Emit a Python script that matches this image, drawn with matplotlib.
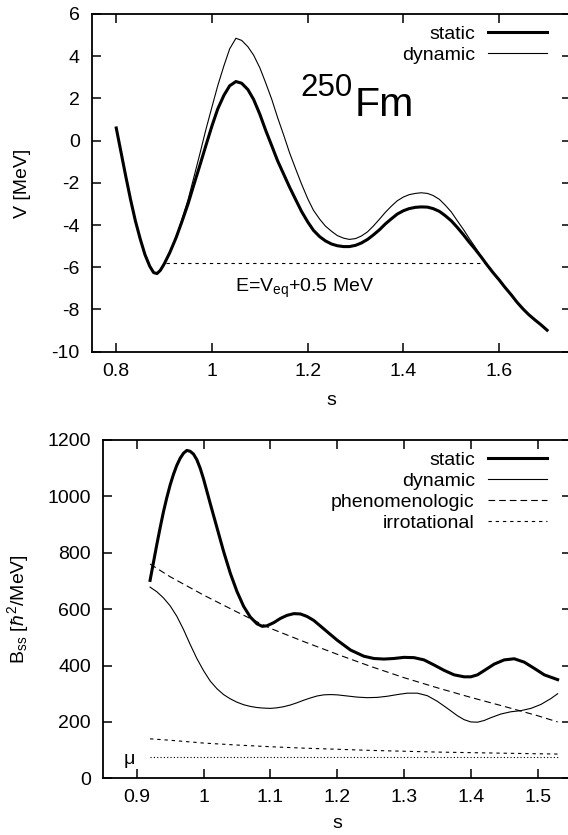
import matplotlib
matplotlib.use('Agg')
import matplotlib.pyplot as plt
from matplotlib.ticker import FixedLocator, FuncFormatter

plt.rcParams['font.family'] = ['Liberation Sans', 'DejaVu Sans']
plt.rcParams['axes.unicode_minus'] = False
plt.rcParams['mathtext.fontset'] = 'custom'
plt.rcParams['mathtext.rm'] = 'Liberation Sans'
plt.rcParams['mathtext.it'] = 'Liberation Sans:italic'

# --- top panel: fission barrier of 250Fm ---
s_top = [0.800, 0.810, 0.820, 0.830, 0.840, 0.850, 0.860, 0.870, 0.878, 0.885,
         0.892, 0.900, 0.912, 0.925, 0.937, 0.950, 0.962, 0.975, 0.987, 1.000,
         1.012, 1.025, 1.037, 1.050, 1.062, 1.075, 1.087, 1.100, 1.112, 1.125,
         1.137, 1.150, 1.162, 1.175, 1.187, 1.200, 1.212, 1.225, 1.237, 1.250,
         1.262, 1.275, 1.287, 1.300, 1.312, 1.325, 1.337, 1.350, 1.362, 1.375,
         1.387, 1.400, 1.412, 1.425, 1.437, 1.450, 1.462, 1.475, 1.487, 1.500,
         1.512, 1.525, 1.537, 1.550, 1.562, 1.575, 1.587, 1.600, 1.612, 1.625,
         1.637, 1.650, 1.662, 1.675, 1.687, 1.700]
v_static = [0.6, -0.55, -1.7, -2.8, -3.8, -4.65, -5.4, -5.95, -6.25, -6.3,
            -6.15, -5.85, -5.3, -4.6, -3.85, -3.0, -2.1, -1.15, -0.25, 0.7,
            1.5, 2.15, 2.6, 2.8, 2.72, 2.42, 1.95, 1.25, 0.5, -0.25,
            -0.95, -1.6, -2.2, -2.8, -3.35, -3.85, -4.25, -4.55, -4.75, -4.9,
            -4.98, -5.02, -5.02, -4.96, -4.85, -4.68, -4.47, -4.22, -3.95, -3.7,
            -3.48, -3.32, -3.22, -3.16, -3.14, -3.15, -3.22, -3.35, -3.55, -3.8,
            -4.1, -4.45, -4.8, -5.15, -5.5, -5.9, -6.25, -6.6, -6.95, -7.3,
            -7.65, -7.98, -8.25, -8.5, -8.72, -8.98]
v_dynamic = [0.6, -0.55, -1.7, -2.8, -3.8, -4.65, -5.4, -5.95, -6.25, -6.3,
             -6.15, -5.85, -5.3, -4.6, -3.75, -2.8, -1.75, -0.6, 0.5, 1.6,
             2.6, 3.55, 4.35, 4.85, 4.75, 4.45, 4.05, 3.45, 2.75, 1.95,
             1.1, 0.25, -0.57, -1.35, -2.05, -2.75, -3.3, -3.72, -4.05, -4.3,
             -4.5, -4.62, -4.68, -4.64, -4.52, -4.32, -4.05, -3.72, -3.4, -3.1,
             -2.85, -2.67, -2.56, -2.5, -2.47, -2.5, -2.6, -2.78, -3.05, -3.38,
             -3.78, -4.2, -4.62, -5.05, -5.48, -5.9, -6.25, -6.6, -6.95, -7.3,
             -7.65, -7.98, -8.25, -8.5, -8.72, -8.98]
e_level = -5.8
e_range = [0.905, 1.57]

# --- bottom panel: inertia parameter B_ss ---
s_bs = [0.920, 0.925, 0.930, 0.935, 0.940, 0.945, 0.950, 0.955, 0.960, 0.965,
        0.970, 0.975, 0.980, 0.985, 0.990, 0.995, 1.000, 1.010, 1.020, 1.030,
        1.040, 1.050, 1.060, 1.070, 1.080, 1.088, 1.095, 1.105, 1.115, 1.125,
        1.135, 1.145, 1.155, 1.165, 1.180, 1.200, 1.220, 1.240, 1.255, 1.270,
        1.285, 1.300, 1.315, 1.330, 1.345, 1.360, 1.375, 1.390, 1.400, 1.410,
        1.420, 1.435, 1.450, 1.465, 1.480, 1.495, 1.510, 1.530]
b_static = [702, 765, 828, 888, 945, 995, 1040, 1078, 1110, 1135,
            1153, 1163, 1160, 1150, 1130, 1100, 1062, 975, 890, 805,
            728, 663, 610, 572, 548, 539, 541, 552, 567, 578,
            584, 583, 574, 560, 530, 490, 455, 433, 425, 423,
            425, 429, 428, 420, 402, 383, 367, 360, 360, 367,
            382, 405, 420, 424, 412, 390, 367, 350]
s_dyn = [0.920, 0.930, 0.940, 0.950, 0.960, 0.970, 0.980, 0.990, 1.000, 1.010,
         1.020, 1.030, 1.040, 1.050, 1.060, 1.070, 1.080, 1.090, 1.100, 1.110,
         1.120, 1.130, 1.140, 1.150, 1.160, 1.170, 1.180, 1.190, 1.200, 1.215,
         1.230, 1.245, 1.260, 1.275, 1.290, 1.305, 1.320, 1.335, 1.350, 1.365,
         1.380, 1.390, 1.400, 1.410, 1.420, 1.430, 1.445, 1.460, 1.475, 1.490,
         1.505, 1.520, 1.530]
b_dynamic = [678, 662, 640, 612, 575, 528, 475, 425, 382, 345,
             318, 297, 282, 270, 261, 255, 251, 249, 248, 250,
             254, 260, 268, 277, 285, 292, 296, 297, 296, 292,
             288, 286, 287, 291, 297, 302, 302, 293, 273, 248,
             222, 208, 200, 199, 205, 215, 228, 236, 240, 248,
             262, 283, 300]
s_smooth = [0.92, 0.95, 1.00, 1.05, 1.10, 1.15, 1.20, 1.25, 1.30, 1.35,
            1.40, 1.45, 1.50, 1.53]
b_phen = [760, 715, 650, 590, 532, 485, 440, 397, 357, 321,
          287, 255, 222, 200]
b_irrot = [140, 135, 125, 118, 112, 107, 103, 99, 96, 93,
           91, 89, 87, 86]
mu_val = 75
mu_range = [0.92, 1.53]


def fmt(v, pos):
    return '%g' % v


def style_axes(ax, xticks, yticks):
    for sp in ax.spines.values():
        sp.set_linewidth(1.3)
    ax.xaxis.set_major_locator(FixedLocator(xticks))
    ax.yaxis.set_major_locator(FixedLocator(yticks))
    ax.xaxis.set_major_formatter(FuncFormatter(fmt))
    ax.yaxis.set_major_formatter(FuncFormatter(fmt))
    ax.tick_params(direction='in', length=6.5, width=1.1, top=True, right=True,
                   labelsize=14, color='black')
    ax.tick_params(axis='x', pad=8)
    ax.tick_params(axis='y', pad=9)


def add_legend(ax, top_px):
    ax.legend(loc='upper right', bbox_to_anchor=(546.7 / W, 1 - top_px / H),
              bbox_transform=fig.transFigure, frameon=False, markerfirst=False,
              fontsize=14, handlelength=3.0, handletextpad=0.7, labelspacing=0.18,
              borderpad=0, borderaxespad=0)


fig = plt.figure(figsize=(5.68, 8.35), dpi=100)
W, H = 568.0, 835.0

# top panel
ax1 = fig.add_axes([92.3 / W, 1 - 351.7 / H, (571 - 92.3) / W, (351.7 - 14) / H])
ax1.plot(s_top, v_static, color='black', lw=2.2, label='static', solid_joinstyle='round')
ax1.plot(s_top, v_dynamic, color='black', lw=0.8, label='dynamic')
ax1.plot(e_range, [e_level, e_level], color='black', lw=0.8, ls=(0, (3, 3.5)))
ax1.text(1.048, -7.0, r'E=V$_{\mathregular{eq}}$+0.5 MeV', fontsize=14, va='center', ha='left')
ax1.text(1.184, 2.11, '250', fontsize=22.5, va='baseline', ha='left')
ax1.text(1.297, 1.17, 'Fm', fontsize=29.5, va='baseline', ha='left')
ax1.set_xlim(0.75, 1.75)
ax1.set_ylim(-10, 6)
style_axes(ax1, [0.8, 1.0, 1.2, 1.4, 1.6], list(range(-10, 7, 2)))
ax1.set_xlabel('s', fontsize=14, labelpad=9)
ax1.set_ylabel('V [MeV]', fontsize=14)
ax1.yaxis.set_label_coords(31 / W, 1 - 183 / H, transform=fig.transFigure)
add_legend(ax1, 25)

# bottom panel
ax2 = fig.add_axes([103.3 / W, 1 - 778.3 / H, (571 - 103.3) / W, (778.3 - 440) / H])
ax2.plot(s_bs, b_static, color='black', lw=2.2, label='static', solid_joinstyle='round')
ax2.plot(s_dyn, b_dynamic, color='black', lw=0.8, label='dynamic')
ax2.plot(s_smooth, b_phen, color='black', lw=0.8, ls=(0, (6, 3.6)), label='phenomenologic')
ax2.plot(s_smooth, b_irrot, color='black', lw=0.8, ls=(0, (3, 3.5)), label='irrotational')
ax2.plot(mu_range, [mu_val, mu_val], color='black', lw=0.8, ls=(0, (1, 2)))
ax2.text(0.889, mu_val - 8, 'μ', fontsize=14, va='center', ha='center')
ax2.set_xlim(0.85, 1.55)
ax2.set_ylim(0, 1200)
style_axes(ax2, [0.9, 1.0, 1.1, 1.2, 1.3, 1.4, 1.5], list(range(0, 1201, 200)))
ax2.set_xlabel('s', fontsize=14, labelpad=6)
ax2.set_ylabel(r'B$_{\mathregular{ss}}$ [$\hbar^{\mathregular{2}}$/MeV]', fontsize=14)
ax2.yaxis.set_label_coords(31 / W, 1 - 609 / H, transform=fig.transFigure)
add_legend(ax2, 451)

fig.savefig('out.png', dpi=100)
